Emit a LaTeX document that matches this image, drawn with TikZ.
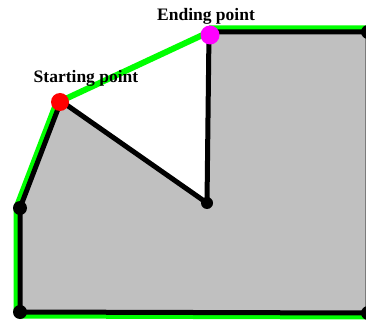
\documentclass[tikz,border=0pt]{standalone}
\usepackage{fontspec}
\setmainfont{Liberation Serif}
\usetikzlibrary{positioning}
\definecolor{hullgreen}{HTML}{00FF00}
\definecolor{polygrey}{HTML}{C0C0C0}
\definecolor{endmagenta}{HTML}{FF00FF}

\begin{document}
\begin{tikzpicture}[x=1pt, y=-1pt, font=\fontsize{17.5}{19}\selectfont\bfseries]
  \tikzstyle{vtx}=[circle,fill=black,inner sep=0pt,minimum size=14pt]
  \tikzstyle{hull}=[draw=hullgreen,line width=13pt,line join=round]
  \tikzstyle{edge}=[draw=black,line width=5pt,line join=round]
  \useasboundingbox (0,0) rectangle (366,320);
  \coordinate (s) at (61,101);
  \coordinate (e) at (209,32);
  \coordinate (tr) at (368,32);
  \coordinate (br) at (368,313);
  \coordinate (bl) at (20,312);
  \coordinate (l) at (20,208);
  \coordinate (in) at (207,203);
  % hull outside the polygon
  \draw[hull] (s) -- (l) -- (bl) -- (br) -- (tr) -- (e);
  \path[edge,fill=polygrey] (s) -- (l) -- (bl) -- (br) -- (tr) -- (e) -- (in) -- cycle;
  \draw[draw=hullgreen,line width=6pt] (s) -- (e);
  \node[vtx] (nl) at (l) {};
  \node[vtx] (nbl) at (bl) {};
  \node[vtx] (nbr) at (br) {};
  \node[vtx] (ntr) at (tr) {};
  \node[vtx,minimum size=12pt] (nin) at (in) {};
  \node[circle,fill=red,inner sep=0pt,minimum size=18pt] (start) at (60,102) {};
  \node[circle,fill=endmagenta,inner sep=0pt,minimum size=19pt] (end) at (210,35) {};
  \node[anchor=base] (startlbl) at (86,83) {Starting point};
  \node[anchor=base] (endlbl) at (206,21) {Ending point};
\end{tikzpicture}
\end{document}
